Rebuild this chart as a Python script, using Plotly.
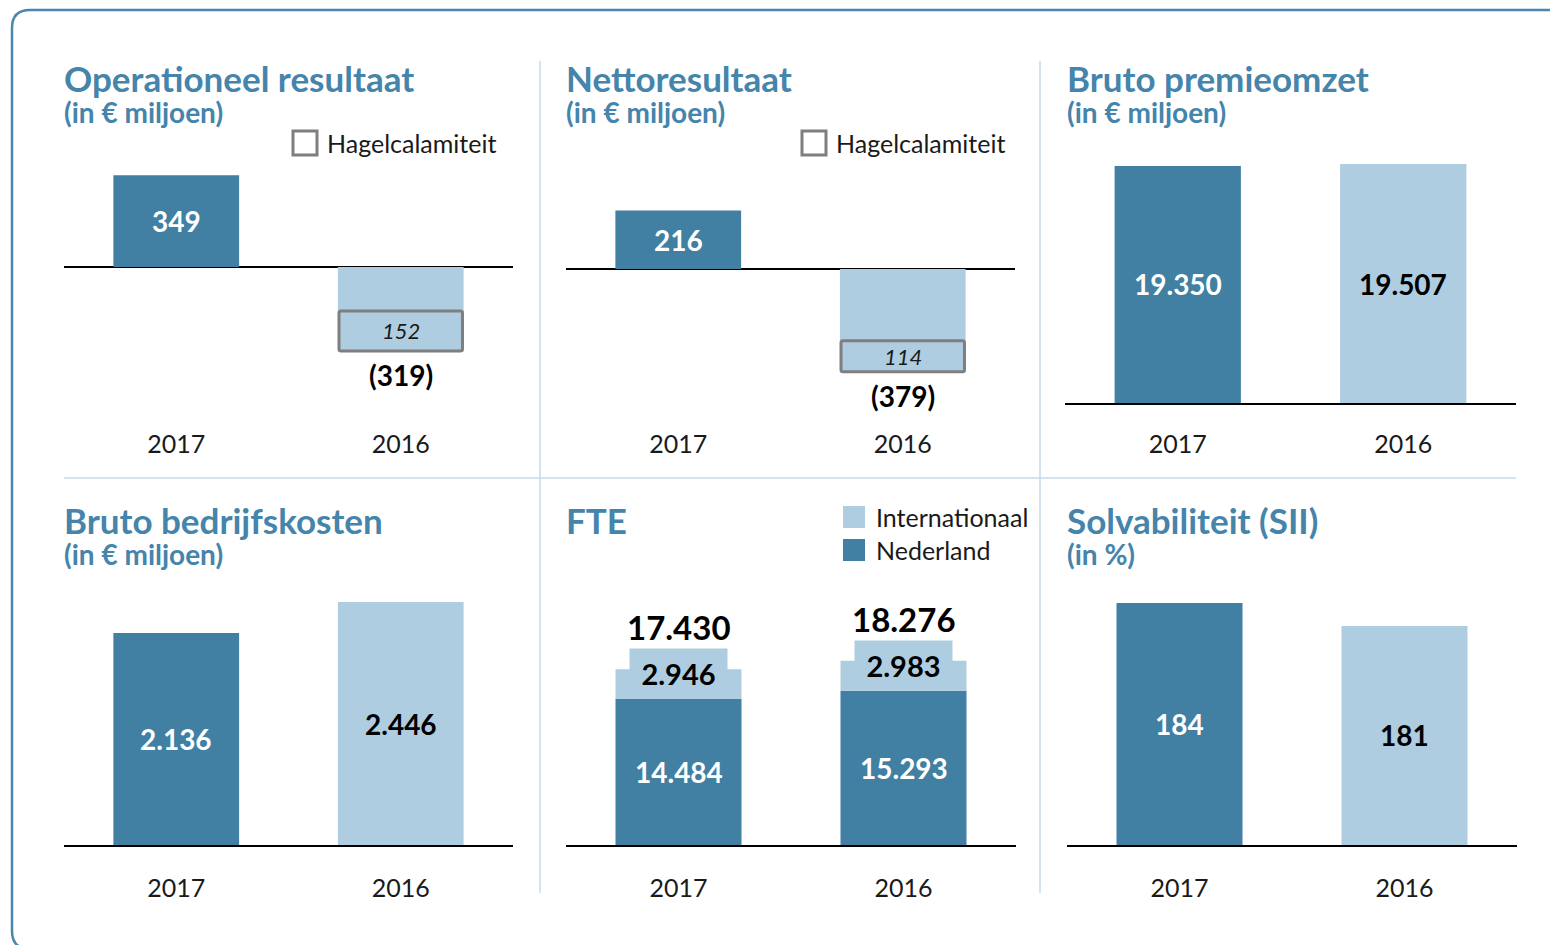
import plotly.graph_objects as go

W, H = 1550, 945

# ---------------- data ----------------
years = ["2017", "2016"]
op_result = [349, -319]
op_hail = [0, 152]
net_result = [216, -379]
net_hail = [0, 114]
gross_premium = [19350, 19507]
gross_costs = [2136, 2446]
fte_nl = [14484, 15293]
fte_intl = [2946, 2983]
fte_total = [17430, 18276]
solvency = [184, 181]

titles = ["Operationeel resultaat", "Nettoresultaat", "Bruto premieomzet",
          "Bruto bedrijfskosten", "FTE", "Solvabiliteit (SII)"]
subtitles = ["(in € miljoen)", "(in € miljoen)", "(in € miljoen)",
             "(in € miljoen)", "", "(in %)"]
hail_label = "Hagelcalamiteit"
fte_legend = ["Internationaal", "Nederland"]

# ---------------- style ----------------
DARK = "#417fa3"
LIGHT = "#afcde0"
TITLE = "#4584ab"
FRAME = "#4a86ad"
DIVIDER = "#c4dbea"
GREY = "#7f7f7f"
FONT = "Lato"
BAR_W = 0.56
XPOS = list(range(len(years)))


def X(px):
    return px / W


def Y(py):
    return 1 - py / H


def nl(v):
    return f"{v:,}".replace(",", ".")


# panel geometry (pixels): left, right, top, bottom, pixel of base value, px per unit, base value
panels = [
    dict(l=64, r=513, t=150, b=403, zero=267, s=0.263, base=0, line=False, so=24),
    dict(l=566, r=1015, t=150, b=403, zero=269, s=0.271, base=0, line=False, so=24),
    dict(l=1065, r=1516, t=150, b=403, zero=403, s=0.01225, base=0, line=True, so=18),
    dict(l=64, r=513, t=590, b=845, zero=845, s=0.0993, base=0, line=True, so=20),
    dict(l=566, r=1016, t=590, b=845, zero=845, s=0.01008, base=0, line=True, so=20),
    dict(l=1067, r=1517, t=590, b=845, zero=845, s=7.66, base=152.4, line=True, so=20),
]

fig = go.Figure()
layout = dict(
    width=W, height=H, margin=dict(l=0, r=0, t=0, b=0),
    paper_bgcolor="white", plot_bgcolor="rgba(0,0,0,0)",
    barmode="overlay", showlegend=False,
    font=dict(family=FONT, color="#1a1a1a"),
)

for i, p in enumerate(panels, start=1):
    sfx = "" if i == 1 else str(i)
    lo = p["base"] + (p["zero"] - p["b"]) / p["s"]
    hi = p["base"] + (p["zero"] - p["t"]) / p["s"]
    layout["xaxis" + sfx] = dict(
        domain=[X(p["l"]), X(p["r"])], anchor="y" + sfx,
        range=[-0.5, len(years) - 0.5], tickvals=XPOS, ticktext=years,
        showgrid=False, zeroline=False, ticks="",
        showline=p["line"], linecolor="black", linewidth=2,
        tickfont=dict(family=FONT, size=25, color="#1a1a1a"),
        ticklabelstandoff=p["so"], fixedrange=True,
    )
    layout["yaxis" + sfx] = dict(
        domain=[Y(p["b"]), Y(p["t"])], anchor="x" + sfx, range=[lo, hi],
        showgrid=False, showticklabels=False, ticks="", showline=False,
        zeroline=not p["line"], zerolinecolor="black", zerolinewidth=2, fixedrange=True,
    )

txt_font = dict(family=FONT, size=28, weight="bold")
annotations = []
shapes = []


def simple_bars(idx, values, floor=0):
    sfx = "" if idx == 1 else str(idx)
    fig.add_bar(
        x=XPOS, y=values, width=[BAR_W] * 2, xaxis="x" + sfx, yaxis="y" + sfx,
        marker=dict(color=[DARK, LIGHT], line=dict(width=0)), hoverinfo="skip",
    )
    for xp, v, c in zip(XPOS, values, ["white", "black"]):
        annotations.append(dict(
            x=xp, y=(floor + v) / 2, xref="x" + sfx, yref="y" + sfx, text=nl(v),
            showarrow=False, yanchor="middle", font=dict(txt_font, color=c),
        ))


# panels 1 & 2: results with hail box
for idx, vals, hail in [(1, op_result, op_hail), (2, net_result, net_hail)]:
    sfx = "" if idx == 1 else str(idx)
    fig.add_bar(
        x=XPOS, y=vals, width=[BAR_W] * 2, xaxis="x" + sfx, yaxis="y" + sfx,
        marker=dict(color=[DARK, LIGHT], line=dict(width=0)), hoverinfo="skip",
    )
    annotations.append(dict(
        x=XPOS[0], y=vals[0] / 2, xref="x" + sfx, yref="y" + sfx, text=nl(vals[0]),
        showarrow=False, yanchor="middle", font=dict(txt_font, color="white"),
    ))
    fig.add_bar(
        x=[XPOS[1]], y=[hail[1]], base=[vals[1]], width=[BAR_W - 0.01],
        xaxis="x" + sfx, yaxis="y" + sfx,
        marker=dict(color=LIGHT, line=dict(color=GREY, width=3), cornerradius=2),
        hoverinfo="skip",
    )
    annotations.append(dict(
        x=XPOS[1], y=vals[1] + hail[1] / 2, xref="x" + sfx, yref="y" + sfx,
        text=str(hail[1]), showarrow=False, yanchor="middle",
        font=dict(family=FONT, size=22, style="italic", color="#1a1a1a"),
    ))
    annotations.append(dict(
        x=XPOS[1], y=vals[1], xref="x" + sfx, yref="y" + sfx,
        text=f"({abs(vals[1])})", showarrow=False, yanchor="top", yshift=-5,
        font=dict(family=FONT, size=28, weight="bold", color="black"),
    ))

simple_bars(3, gross_premium)
simple_bars(4, gross_costs)
simple_bars(6, solvency, floor=panels[5]["base"])

# panel 5: FTE stacked
fig.add_bar(
    x=XPOS, y=fte_nl, width=[BAR_W] * 2, xaxis="x5", yaxis="y5",
    marker=dict(color=DARK, line=dict(width=0)), hoverinfo="skip",
)
fig.add_bar(
    x=XPOS, y=fte_intl, base=fte_nl, width=[BAR_W] * 2, xaxis="x5", yaxis="y5",
    marker=dict(color=LIGHT, line=dict(width=0)), hoverinfo="skip",
)
for xp, tot, intl, ned in zip(XPOS, fte_total, fte_intl, fte_nl):
    annotations.append(dict(
        x=xp, y=ned / 2, xref="x5", yref="y5", text=nl(ned), showarrow=False,
        yanchor="middle", font=dict(txt_font, color="white"),
    ))
    annotations.append(dict(
        x=xp, y=tot, xref="x5", yref="y5", text=nl(intl), showarrow=False,
        yanchor="top", yshift=21, width=97, height=48, bgcolor=LIGHT, borderpad=0,
        font=dict(family=FONT, size=29, weight="bold", color="black"),
    ))
    annotations.append(dict(
        x=xp, y=tot, xref="x5", yref="y5", text=nl(tot), showarrow=False,
        yanchor="middle", yshift=42,
        font=dict(family=FONT, size=33, weight="bold", color="black"),
    ))

# titles
title_pos = [(64, 78, 112), (566, 78, 112), (1067, 78, 112),
             (64, 520, 554), (566, 520, 554), (1067, 520, 554)]
for (x, yt, ys), t, st in zip(title_pos, titles, subtitles):
    annotations.append(dict(
        x=X(x - 2), y=Y(yt), xref="paper", yref="paper", xanchor="left", yanchor="middle",
        text=t, showarrow=False, font=dict(family=FONT, size=35, weight="bold", color=TITLE),
    ))
    if st:
        annotations.append(dict(
            x=X(x - 2), y=Y(ys), xref="paper", yref="paper", xanchor="left", yanchor="middle",
            text=st, showarrow=False, font=dict(family=FONT, size=28, weight="bold", color=TITLE),
        ))

# hail legend (checkbox)
for bx in (293, 802):
    shapes.append(dict(type="rect", xref="paper", yref="paper",
                       x0=X(bx), x1=X(bx + 24), y0=Y(155), y1=Y(131),
                       line=dict(color=GREY, width=3), fillcolor="white"))
    annotations.append(dict(
        x=X(bx + 32), y=Y(143), xref="paper", yref="paper", xanchor="left", yanchor="middle",
        text=hail_label, showarrow=False, font=dict(family=FONT, size=25, color="#1a1a1a"),
    ))

# FTE legend
for (yc, col), lab in zip([(517, LIGHT), (550, DARK)], fte_legend):
    shapes.append(dict(type="rect", xref="paper", yref="paper",
                       x0=X(843), x1=X(865), y0=Y(yc + 11), y1=Y(yc - 11),
                       line=dict(width=0), fillcolor=col))
    annotations.append(dict(
        x=X(874), y=Y(yc), xref="paper", yref="paper", xanchor="left", yanchor="middle",
        text=lab, showarrow=False, font=dict(family=FONT, size=25, color="#1a1a1a"),
    ))

# dividers
for vx in (540, 1040):
    shapes.append(dict(type="line", xref="paper", yref="paper",
                       x0=X(vx), x1=X(vx), y0=Y(61), y1=Y(893),
                       line=dict(color=DIVIDER, width=1.5)))
shapes.append(dict(type="line", xref="paper", yref="paper",
                   x0=X(64), x1=X(1516), y0=Y(478), y1=Y(478),
                   line=dict(color=DIVIDER, width=1.5)))

# rounded frame
r = 18
fl, ft, fb, fr = 12, 10, 949, 1570
path = (f"M {X(fr)},{Y(ft)} L {X(fl + r)},{Y(ft)} Q {X(fl)},{Y(ft)} {X(fl)},{Y(ft + r)} "
        f"L {X(fl)},{Y(fb - r)} Q {X(fl)},{Y(fb)} {X(fl + r)},{Y(fb)} L {X(fr)},{Y(fb)}")
shapes.append(dict(type="path", xref="paper", yref="paper", path=path,
                   line=dict(color=FRAME, width=2.5)))

layout["annotations"] = annotations
layout["shapes"] = shapes
fig.update_layout(**layout)

fig.write_html("out.html", config={"displayModeBar": False},
               post_script="document.body.style.margin='0';")
